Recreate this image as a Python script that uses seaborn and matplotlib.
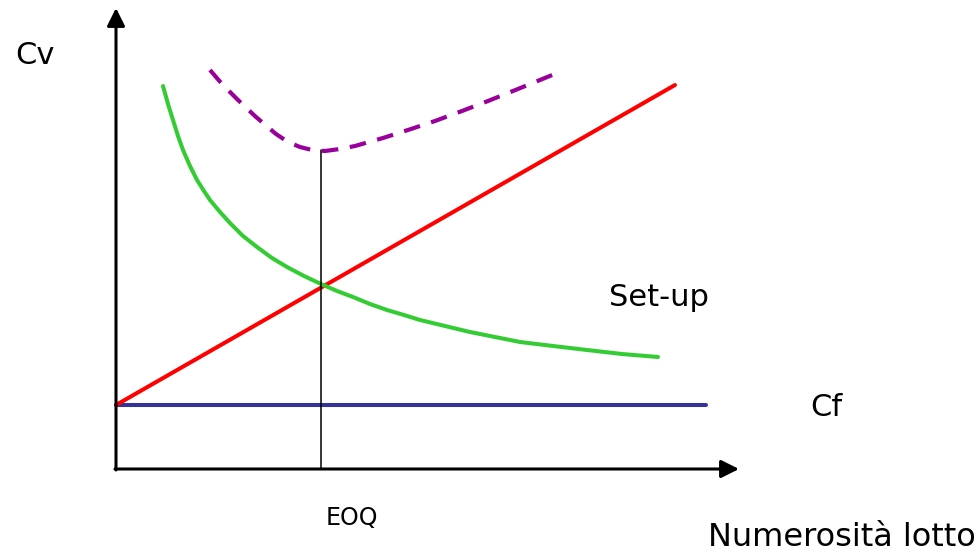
import matplotlib
matplotlib.use("Agg")
import matplotlib.pyplot as plt
import seaborn as sns
import pandas as pd

# Lot size (x) and cost (y)
fixed_x = [0, 590]
fixed_y = [64, 64]

holding_x = [0, 559]
holding_y = [64, 384]

setup_x = [47, 52, 57, 62, 67, 74, 81, 88, 94, 104, 114, 127, 141, 156, 171, 188,
           205, 221, 237, 254, 271, 288, 304, 329, 354, 379, 404, 437, 471, 506, 542]
setup_y = [383, 365, 349, 333, 319, 303, 289, 278, 269, 257, 246, 233, 222, 211, 202, 193,
           185, 178, 172, 165, 159, 154, 149, 143, 137, 132, 127, 123, 119, 115, 112]

total_x = [94, 106, 122, 140, 160, 172, 184, 196, 209, 224, 239, 253, 267, 292, 319,
           346, 372, 397, 424, 446]
total_y = [399, 385, 369, 352, 335, 327, 322, 319, 318, 320, 323, 327, 331, 339, 348,
           358, 368, 378, 389, 398]

eoq_x = 205
eoq_y = 319

sns.set_style("white")
plt.rcParams['font.family'] = ['DejaVu Sans']
plt.rcParams['text.color'] = 'black'

fig = plt.figure(figsize=(9.8, 5.55), dpi=100)
ax = fig.add_axes([0, 0, 1, 1])

series = [
    (fixed_x, fixed_y, "#333399"),
    (holding_x, holding_y, "#ff0000"),
    (setup_x, setup_y, "#33cc33"),
]
for xs, ys, col in series:
    df = pd.DataFrame({"x": xs, "y": ys})
    sns.lineplot(data=df, x="x", y="y", sort=False, color=col, lw=2.9,
                 solid_joinstyle="round", ax=ax)

df_tot = pd.DataFrame({"x": total_x, "y": total_y})
sns.lineplot(data=df_tot, x="x", y="y", sort=False, color="#990099", lw=3.0, ax=ax)
ax.lines[-1].set_dashes((4, 2.8))
ax.lines[-1].set_dash_joinstyle("round")

# EOQ marker
ax.plot([eoq_x, eoq_x], [0, eoq_y], color="black", lw=1.1)

# axes with arrows
arrow = dict(arrowstyle="-|>", lw=2.2, color="black", mutation_scale=27,
             shrinkA=0, shrinkB=0)
ax.annotate("", xy=(623, 0), xytext=(-1, 0), arrowprops=arrow)
ax.annotate("", xy=(0, 461), xytext=(0, -1), arrowprops=arrow)

ax.text(-81, 414, "Cv", fontsize=22, ha="center", va="center")
ax.text(543, 172, "Set-up", fontsize=22, ha="center", va="center")
ax.text(710, 61, "Cf", fontsize=22, ha="center", va="center")
ax.text(236, -49, "EOQ", fontsize=17, ha="center", va="center")
ax.text(726, -68, "Numerosità lotto", fontsize=23, ha="center", va="center")

ax.set_xlim(-116, 864)
ax.set_ylim(-86, 469)
ax.axis("off")

fig.savefig("out.png", dpi=100)
